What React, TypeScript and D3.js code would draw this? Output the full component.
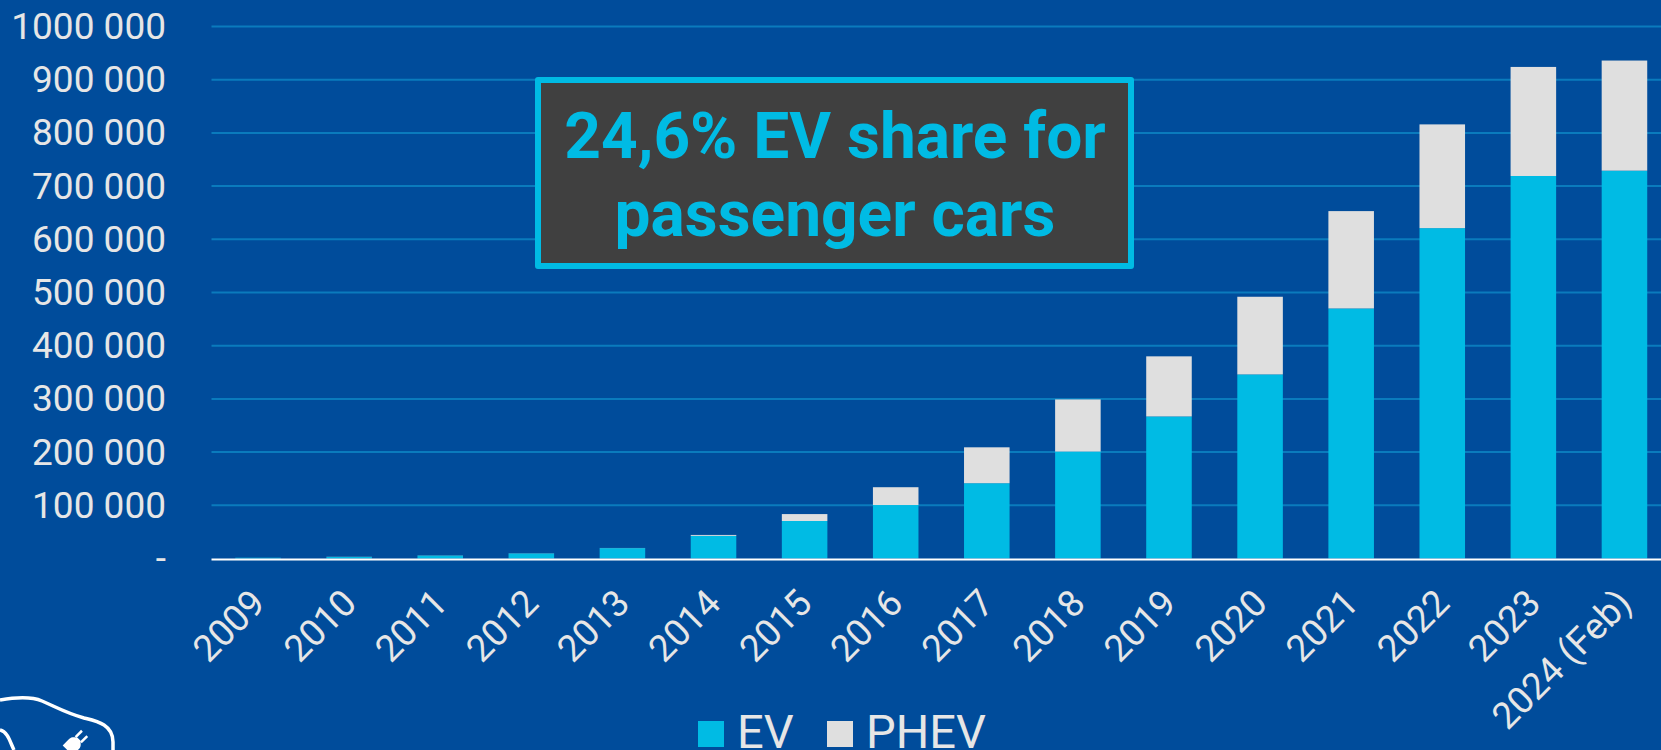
import React from "react";
import * as d3 from "d3";

const categories = ["2009","2010","2011","2012","2013","2014","2015","2016","2017","2018","2019","2020","2021","2022","2023","2024 (Feb)"];
const evValues = [1500,3000,5500,9500,19500,42500,70500,100500,141500,201000,267000,346000,470000,621000,719000,729000];
const phevValues = [0,300,300,300,300,1800,13000,33500,67500,98000,113000,146000,183000,195000,205000,207000];
const yTicks = [0,100000,200000,300000,400000,500000,600000,700000,800000,900000,1000000];
const boxLines = ["24,6% EV share for","passenger cars"];

const W = 1661, H = 750;
const BG = "#004c9b", EV = "#00bbe4", PHEV = "#dfdfdf", GRID = "#0a7bbd", TXT = "#e6e6e6";
const FONT = "Roboto, sans-serif";

const x = d3.scaleBand<string>().domain(categories).range([212.5, 1670]).paddingInner(0.5).paddingOuter(0.25);
const y = d3.scaleLinear().domain([0, 1000000]).range([558.5, 26.5]);
const fmt = (v: number) => v === 0 ? "-" : d3.format(",")(v).replace(/,/g, " ").replace(/^1 000 000$/, "1000 000");

const stack = d3.stack<any>().keys(["ev","phev"])(categories.map((c,i)=>({c, ev: evValues[i], phev: phevValues[i]})));
const fills = [EV, PHEV];

export default function App() {
  return (
    <svg width={W} height={H} viewBox={`0 0 ${W} ${H}`} style={{position:"fixed",left:0,top:0,display:"block"}} fontFamily={FONT}>
      <rect width={W} height={H} fill={BG}/>
      {yTicks.slice(1).map(t => (
        <line key={t} x1={211.5} x2={W} y1={y(t)} y2={y(t)} stroke={GRID} strokeWidth={2}/>
      ))}
      {yTicks.map(t => (
        <text key={t} x={166} y={y(t)+12.5} textAnchor="end" fontSize={37} fontWeight={400} fill={TXT}>{fmt(t)}</text>
      ))}
      {stack.map((s,si) => s.map((d,i) => (
        <rect key={si+"-"+i} x={x(categories[i])!} width={x.bandwidth()} y={y(d[1])} height={Math.max(0,y(d[0])-y(d[1]))} fill={fills[si]}/>
      )))}
      <line x1={211.5} x2={W} y1={y(0)+1} y2={y(0)+1} stroke="#ffffff" strokeWidth={2}/>
      {categories.map(c => {
        const cx = x(c)! + x.bandwidth()/2;
        return <text key={c} transform={`translate(${cx-10},${586}) rotate(-45)`} textAnchor="end" fontSize={37} fontWeight={400} fill={TXT} dominantBaseline="hanging">{c}</text>;
      })}
      <rect x={538} y={80} width={593} height={186} fill="#404040" stroke={EV} strokeWidth={6} strokeLinejoin="round"/>
      {boxLines.map((l,i) => (
        <text key={l} x={835} y={158+i*78} textAnchor="middle" fontSize={64} fontWeight={700} fill={EV}>{l}</text>
      ))}
      <rect x={698} y={721} width={26} height={26} fill={EV}/>
      <text x={737} y={748} fontSize={47} fontWeight={400} fill={TXT}>EV</text>
      <rect x={827} y={721} width={26} height={26} fill={PHEV}/>
      <text x={866} y={748} fontSize={47} fontWeight={400} fill={TXT}>PHEV</text>
      <path d="M0,700 C12,698 30,696 42,701 C58,708 66,713 84,718 C96,721 113,724 113,742 L113,750" fill="none" stroke="#fff" strokeWidth={3.5}/>
      <path d="M0,730 C8,732 10,742 14,750" fill="none" stroke="#fff" strokeWidth={3.5}/>
      <g transform="translate(74,744) rotate(-45)" fill="#fff">
        <path d="M-9,-7 L0,-7 C4,-7 6,-3 7,-2 L7,2 C6,3 4,7 0,7 L-9,7 Z"/>
        <rect x={6} y={-5} width={9} height={2.5}/>
        <rect x={6} y={2.5} width={9} height={2.5}/>
      </g>
    </svg>
  );
}
